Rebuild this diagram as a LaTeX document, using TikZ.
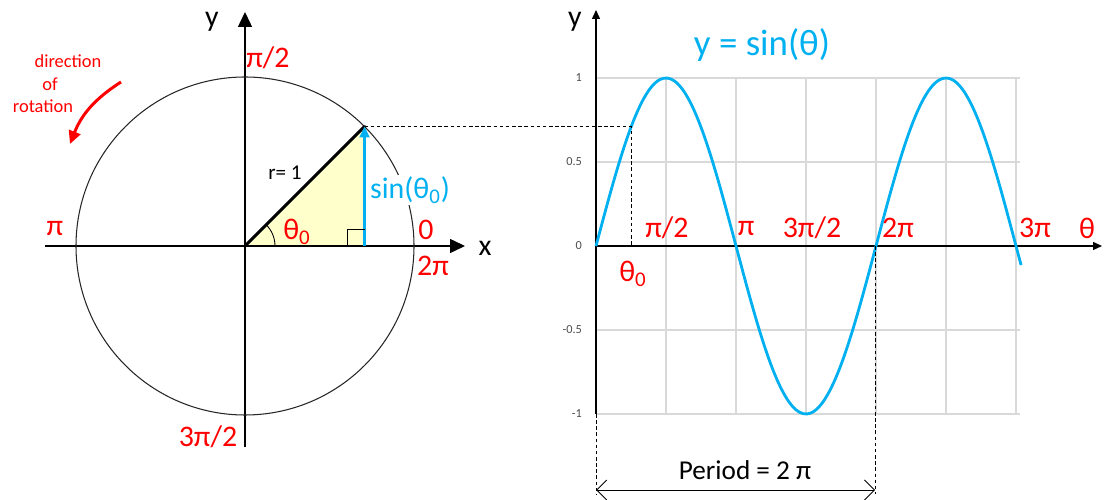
\documentclass[tikz,border=0pt]{standalone}
\usepackage{fontspec}
\setmainfont{Carlito}
\usepackage{tikz}
\usetikzlibrary{arrows.meta,positioning,calc}
\definecolor{sinblue}{RGB}{0,176,240}
\definecolor{lblred}{RGB}{255,0,0}
\definecolor{gridgray}{RGB}{217,217,217}
\definecolor{triyellow}{RGB}{255,255,204}

\begin{document}
\begin{tikzpicture}[x=0.02cm,y=0.02cm,
  axisbig/.style={line width=0.8pt,-{Triangle[length=3mm,width=2.8mm]}},
  axissmall/.style={line width=0.8pt,-{Triangle[length=1.8mm,width=1.6mm]}},
  grd/.style={gridgray,line width=0.6pt},
  redlbl/.style={text=lblred,font=\fontsize{17}{20}\selectfont,inner sep=1pt},
  blklbl/.style={text=black,font=\fontsize{17}{20}\selectfont,inner sep=1pt},
  rotlbl/.style={text=lblred,font=\fontsize{10.5}{12}\selectfont,inner sep=1pt},
  ticklbl/.style={text=black!70,font=\fontsize{7}{8}\selectfont,anchor=east,inner sep=1pt},
  guide/.style={line width=0.5pt,dash pattern=on 2pt off 1.5pt}
]
\useasboundingbox (0,0) rectangle (1105,500);

% Kreis
\coordinate (O) at (245,254);
\coordinate (P) at ($(O)+(45:169)$);
\coordinate (Q) at (P |- O);
\fill[triyellow] (O) -- (P) -- (Q) -- cycle;
\draw[axisbig] (45,254) -- (465,254);
\draw[axisbig] (245,53) -- (245,488);
\draw[line width=0.6pt,black!85] (O) circle[radius=169];
\draw[line width=1.8pt,line cap=round] (O) -- (P);
\draw[sinblue,line width=1.3pt,-{Triangle[length=2.2mm,width=2mm]}] (Q) -- (P);
\draw[line width=0.5pt] ($(Q)+(-17,0)$) |- ($(Q)+(0,17)$);
\draw[line width=0.5pt] ($(O)+(30,0)$) arc[start angle=0,end angle=45,radius=30];

\node[blklbl] (ylft) at (212,478) {y};
\node[blklbl] (xlft) at (485,252) {x};
\node[redlbl] (top) at (268,442) {π/2};
\node[redlbl] (lft) at (55,272) {π};
\node[redlbl] (zero) at (426,270) {0};
\node[redlbl] (full) at (433,234) {2π};
\node[redlbl] (bot) at (208,63) {3π/2};
\node[redlbl] (ang) at (297,268) {θ\textsubscript{0}};
\node[font=\fontsize{12}{14}\selectfont] (rad) at (285,327) {r= 1};
\node[text=sinblue,font=\fontsize{17}{20}\selectfont,fill=white,inner sep=1pt,anchor=west] (sinlbl) at (368,310) {sin(θ\textsubscript{0})};

% Drehrichtung
\node[rotlbl] (rot1) at (68,439) {direction};
\node[rotlbl] (rot2) at (50,416) {of};
\node[rotlbl] (rot3) at (43,394) {rotation};
\coordinate (r1) at (121,418);
\coordinate (r2) at (70,356);
\draw[lblred,line width=1.7pt,-{Triangle[length=2.6mm,width=2.4mm]}] (r1) to[bend right=18] (r2);

% Sinuskurve
\coordinate (S) at (596,254);
\foreach \k in {1,...,6} \draw[grd] ($(S)+(70*\k,-168)$) -- ($(S)+(70*\k,168)$);
\foreach \v in {-168,-84,84,168} \draw[grd] ($(S)+(0,\v)$) -- ($(S)+(424,\v)$);
\draw[axissmall] (596,86) -- (596,490);
\draw[axissmall] (S) -- (1102,254);
\draw[sinblue,line width=1.6pt] plot[smooth,domain=0:9.54,samples=120] ({596+\x*140/pi},{254+168*sin(\x r)});

\node[ticklbl] (t1) at (584,422) {1};
\node[ticklbl] (t2) at (584,338) {0.5};
\node[ticklbl] (t3) at (584,254) {0};
\node[ticklbl] (t4) at (584,170) {-0.5};
\node[ticklbl] (t5) at (584,86) {-1};

\node[blklbl] (yrt) at (575,478) {y};
\node[text=sinblue,font=\fontsize{21}{24}\selectfont] (title) at (762,455) {y = sin(θ)};
\node[redlbl] (h1) at (667,272) {π/2};
\node[redlbl] (h2) at (746,272) {π};
\node[redlbl] (h3) at (812,272) {3π/2};
\node[redlbl] (h4) at (898,272) {2π};
\node[redlbl] (h6) at (1035,272) {3π};
\node[redlbl] (th) at (1087,272) {θ};
\node[redlbl] (th0) at (633,226) {θ\textsubscript{0}};

% Hilfslinien
\coordinate (T) at (596+35,254);
\coordinate (Ty) at (T |- P);
\draw[guide] (P) -- (Ty) -- (T);
\coordinate (pa) at (596,86);
\coordinate (pb) at (875,254);
\coordinate (pa2) at (596,6);
\coordinate (pb2) at (875,6);
\draw[guide] (pa) -- (pa2);
\draw[guide] (pb) -- (pb2);
\draw[{Straight Barb[length=2mm]}-{Straight Barb[length=2mm]},line width=0.5pt] ($(pa2)+(0,4)$) -- ($(pb2)+(0,4)$);
\node[font=\fontsize{15.5}{18}\selectfont] (per) at (745,30) {Period = 2 π};
\end{tikzpicture}
\end{document}
